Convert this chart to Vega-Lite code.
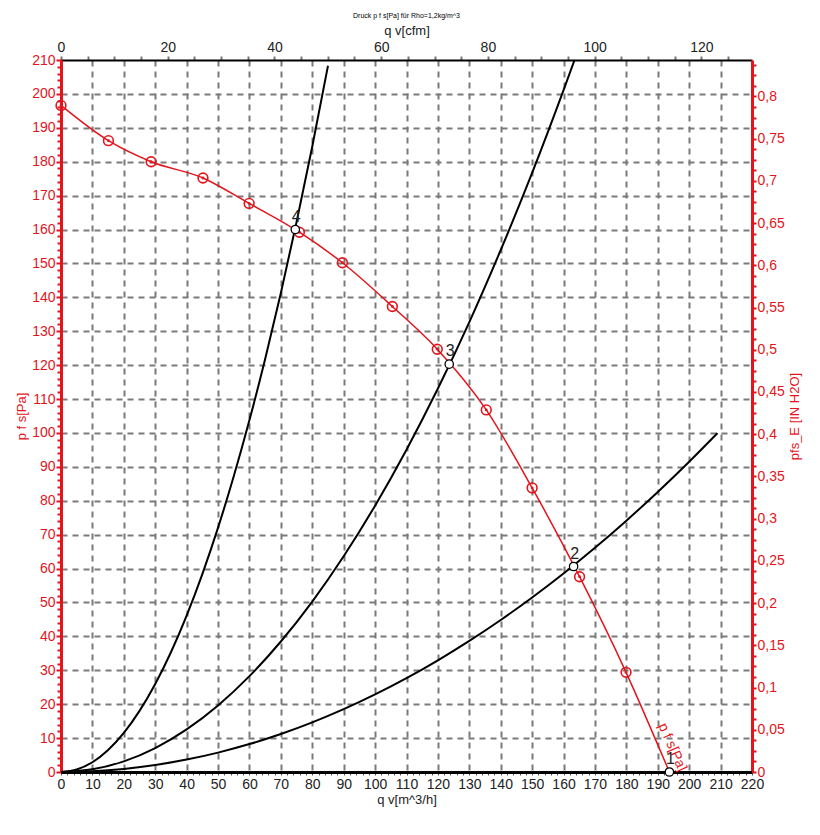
{
  "$schema": "https://vega.github.io/schema/vega-lite/v6.json",
  "width": 691,
  "height": 712,
  "autosize": {"type": "none"},
  "padding": {"left": 61, "top": 60, "right": 68, "bottom": 63},
  "background": "white",
  "config": {"view": {"stroke": null}, "font": "Liberation Sans"},
  "title": {"text": "Druck p f s[Pa] für Rho=1,2kg/m^3", "fontSize": 7, "fontWeight": "normal", "color": "#000000", "anchor": "middle", "offset": 5, "font": "Liberation Sans"},
  "datasets": {
    "fanLine": [
      {"q": 0, "p": 196.6}, {"q": 15.1, "p": 186.2}, {"q": 28.7, "p": 180}, {"q": 45.2, "p": 175.2},
      {"q": 59.9, "p": 167.7}, {"q": 75.9, "p": 159.2}, {"q": 89.6, "p": 150.2}, {"q": 105.5, "p": 137.3},
      {"q": 119.8, "p": 124.7}, {"q": 135.4, "p": 106.8}, {"q": 150, "p": 83.8}, {"q": 165.1, "p": 57.6},
      {"q": 179.9, "p": 29.4}, {"q": 193.7, "p": 0}
    ],
    "fanMarkers": [
      {"q": 0, "p": 196.6}, {"q": 15.1, "p": 186.2}, {"q": 28.7, "p": 180}, {"q": 45.2, "p": 175.2},
      {"q": 59.9, "p": 167.7}, {"q": 75.9, "p": 159.2}, {"q": 89.6, "p": 150.2}, {"q": 105.5, "p": 137.3},
      {"q": 119.8, "p": 124.7}, {"q": 135.4, "p": 106.8}, {"q": 150, "p": 83.8}, {"q": 165.1, "p": 57.6},
      {"q": 179.9, "p": 29.4}
    ],
    "systems": [
      {"c": "4", "q": 0, "p": 0}, {"c": "4", "q": 5, "p": 0.72}, {"c": "4", "q": 10, "p": 2.88}, {"c": "4", "q": 15, "p": 6.49},
      {"c": "4", "q": 20, "p": 11.53}, {"c": "4", "q": 25, "p": 18.02}, {"c": "4", "q": 30, "p": 25.95}, {"c": "4", "q": 35, "p": 35.32},
      {"c": "4", "q": 40, "p": 46.13}, {"c": "4", "q": 45, "p": 58.38}, {"c": "4", "q": 50, "p": 72.08}, {"c": "4", "q": 55, "p": 87.21},
      {"c": "4", "q": 60, "p": 103.79}, {"c": "4", "q": 65, "p": 121.8}, {"c": "4", "q": 70, "p": 141.3}, {"c": "4", "q": 75, "p": 162.2},
      {"c": "4", "q": 80, "p": 184.5}, {"c": "4", "q": 85, "p": 208.3},
      {"c": "3", "q": 0, "p": 0}, {"c": "3", "q": 10, "p": 0.79}, {"c": "3", "q": 20, "p": 3.14}, {"c": "3", "q": 30, "p": 7.07},
      {"c": "3", "q": 40, "p": 12.57}, {"c": "3", "q": 50, "p": 19.64}, {"c": "3", "q": 60, "p": 28.28}, {"c": "3", "q": 70, "p": 38.49},
      {"c": "3", "q": 80, "p": 50.27}, {"c": "3", "q": 90, "p": 63.63}, {"c": "3", "q": 100, "p": 78.55}, {"c": "3", "q": 110, "p": 95.05},
      {"c": "3", "q": 120, "p": 113.1}, {"c": "3", "q": 130, "p": 132.7}, {"c": "3", "q": 140, "p": 153.96}, {"c": "3", "q": 150, "p": 176.7},
      {"c": "3", "q": 160, "p": 201.1}, {"c": "3", "q": 163.5, "p": 210},
      {"c": "2", "q": 0, "p": 0}, {"c": "2", "q": 10, "p": 0.23}, {"c": "2", "q": 20, "p": 0.92}, {"c": "2", "q": 30, "p": 2.06},
      {"c": "2", "q": 40, "p": 3.66}, {"c": "2", "q": 50, "p": 5.72}, {"c": "2", "q": 60, "p": 8.24}, {"c": "2", "q": 70, "p": 11.21},
      {"c": "2", "q": 80, "p": 14.64}, {"c": "2", "q": 90, "p": 18.53}, {"c": "2", "q": 100, "p": 22.88}, {"c": "2", "q": 110, "p": 27.68},
      {"c": "2", "q": 120, "p": 32.95}, {"c": "2", "q": 130, "p": 38.67}, {"c": "2", "q": 140, "p": 44.84}, {"c": "2", "q": 150, "p": 51.48},
      {"c": "2", "q": 160, "p": 58.57}, {"c": "2", "q": 170, "p": 66.12}, {"c": "2", "q": 180, "p": 74.13}, {"c": "2", "q": 190, "p": 82.6},
      {"c": "2", "q": 200, "p": 91.52}, {"c": "2", "q": 209, "p": 99.94},
      {"c": "1", "q": 0, "p": 0}, {"c": "1", "q": 220, "p": 0}
    ],
    "ops": [
      {"q": 193.7, "p": 0, "n": "1"}, {"q": 163.2, "p": 60.6, "n": "2"}, {"q": 123.6, "p": 120.3, "n": "3"}, {"q": 74.6, "p": 160, "n": "4"}
    ],
    "curveLabel": [{"q": 194.6, "p": 7.3, "t": "p f s[Pa]"}],
    "secondary": [{"cfm": 0, "inh": 0}]
  },
  "layer": [
    {
      "encoding": {
        "x": {
          "field": "q", "type": "quantitative",
          "scale": {"domain": [0, 220], "nice": false, "zero": false},
          "axis": {
            "orient": "bottom", "title": "q v[m^3/h]",
            "values": [0,2,4,6,8,10,12,14,16,18,20,22,24,26,28,30,32,34,36,38,40,42,44,46,48,50,52,54,56,58,60,62,64,66,68,70,72,74,76,78,80,82,84,86,88,90,92,94,96,98,100,102,104,106,108,110,112,114,116,118,120,122,124,126,128,130,132,134,136,138,140,142,144,146,148,150,152,154,156,158,160,162,164,166,168,170,172,174,176,178,180,182,184,186,188,190,192,194,196,198,200,202,204,206,208,210,212,214,216,218,220],
            "labelExpr": "datum.value % 10 === 0 ? datum.label : ''",
            "format": "d",
            "grid": true,
            "gridColor": "#7a7a7a", "gridWidth": 2, "gridDash": [6, 5],
            "gridOpacity": {"condition": {"test": "datum.value % 10 === 0 && datum.value > 0 && datum.value < 220", "value": 1}, "value": 0},
            "domainColor": "#000000", "domainWidth": 3,
            "tickColor": "#555555", "tickWidth": 1, "tickSize": 3,
            "labelColor": "#222222", "labelFontSize": 14, "labelPadding": 2, "labelFont": "Liberation Sans",
            "labelOverlap": false, "labelFlush": false,
            "titleColor": "#222222", "titleFontSize": 13, "titleFontWeight": "normal", "titlePadding": 2, "titleFont": "Liberation Sans"
          }
        },
        "y": {
          "field": "p", "type": "quantitative",
          "scale": {"domain": [0, 210], "nice": false, "zero": false},
          "axis": {
            "orient": "left", "title": "p f s[Pa]",
            "values": [0,2,4,6,8,10,12,14,16,18,20,22,24,26,28,30,32,34,36,38,40,42,44,46,48,50,52,54,56,58,60,62,64,66,68,70,72,74,76,78,80,82,84,86,88,90,92,94,96,98,100,102,104,106,108,110,112,114,116,118,120,122,124,126,128,130,132,134,136,138,140,142,144,146,148,150,152,154,156,158,160,162,164,166,168,170,172,174,176,178,180,182,184,186,188,190,192,194,196,198,200,202,204,206,208,210],
            "labelExpr": "datum.value % 10 === 0 ? datum.label : ''",
            "format": "d",
            "grid": true,
            "gridColor": "#7a7a7a", "gridWidth": 2, "gridDash": [6, 5],
            "gridOpacity": {"condition": {"test": "datum.value % 10 === 0 && datum.value > 0 && datum.value < 210", "value": 1}, "value": 0},
            "domainColor": "#e3141c", "domainWidth": 3,
            "tickColor": "#e3141c", "tickWidth": 2,
            "tickSize": {"condition": {"test": "datum.value % 10 === 0", "value": 5}, "value": 4},
            "labelColor": "#e3141c", "labelFontSize": 14, "labelPadding": 1, "labelFont": "Liberation Sans",
            "labelOverlap": false, "labelFlush": false,
            "titleColor": "#e3141c", "titleFontSize": 13, "titleFontWeight": "normal", "titlePadding": 3, "titleFont": "Liberation Sans"
          }
        }
      },
      "layer": [
        {
          "data": {"name": "systems"},
          "mark": {"type": "line", "color": "#000000", "strokeWidth": 2, "interpolate": "monotone"},
          "encoding": {"detail": {"field": "c", "type": "nominal"}, "order": {"field": "q", "type": "quantitative"}}
        },
        {
          "data": {"name": "fanLine"},
          "mark": {"type": "line", "color": "#e3141c", "strokeWidth": 1.5, "interpolate": "monotone"},
          "encoding": {"order": {"field": "q", "type": "quantitative"}}
        },
        {
          "data": {"name": "fanMarkers"},
          "mark": {"type": "point", "shape": "circle", "size": 95, "filled": false, "stroke": "#e3141c", "strokeWidth": 1.6, "opacity": 1}
        },
        {
          "data": {"name": "fanMarkers"},
          "mark": {"type": "point", "shape": "circle", "size": 8, "filled": true, "color": "#e3141c", "opacity": 1}
        },
        {
          "data": {"name": "ops"},
          "mark": {"type": "point", "shape": "circle", "size": 70, "filled": false, "fill": "#ffffff", "fillOpacity": 1, "stroke": "#000000", "strokeWidth": 1.3, "opacity": 1}
        },
        {
          "data": {"name": "ops"},
          "mark": {"type": "text", "fontSize": 16, "color": "#222222", "baseline": "middle", "align": "center", "dy": -13, "dx": 1, "font": "Liberation Sans"},
          "encoding": {"text": {"field": "n", "type": "nominal"}}
        },
        {
          "data": {"name": "curveLabel"},
          "mark": {"type": "text", "fontSize": 14, "color": "#e3141c", "baseline": "middle", "align": "center", "angle": 66, "font": "Liberation Sans"},
          "encoding": {"text": {"field": "t", "type": "nominal"}}
        }
      ]
    },
    {
      "data": {"name": "secondary"},
      "mark": {"type": "point", "opacity": 0},
      "encoding": {
        "x": {
          "field": "cfm", "type": "quantitative",
          "scale": {"domain": [0, 129.49], "nice": false, "zero": false},
          "axis": {
            "orient": "top", "title": "q v[cfm]",
            "values": [0,5,10,15,20,25,30,35,40,45,50,55,60,65,70,75,80,85,90,95,100,105,110,115,120,125],
            "labelExpr": "datum.value % 20 === 0 ? datum.label : ''",
            "format": "d",
            "grid": false,
            "domainColor": "#000000", "domainWidth": 2,
            "tickColor": "#777777", "tickWidth": 2, "tickSize": 4,
            "labelColor": "#222222", "labelFontSize": 14, "labelPadding": 2, "labelFont": "Liberation Sans",
            "labelOverlap": false, "labelFlush": false,
            "titleColor": "#222222", "titleFontSize": 13, "titleFontWeight": "normal", "titlePadding": 3, "titleFont": "Liberation Sans"
          }
        },
        "y": {
          "field": "inh", "type": "quantitative",
          "scale": {"domain": [0, 0.8431], "nice": false, "zero": false},
          "axis": {
            "orient": "right", "title": "pfs_E [IN H2O]",
            "values": [0,0.0125,0.025,0.0375,0.05,0.0625,0.075,0.0875,0.1,0.1125,0.125,0.1375,0.15,0.1625,0.175,0.1875,0.2,0.2125,0.225,0.2375,0.25,0.2625,0.275,0.2875,0.3,0.3125,0.325,0.3375,0.35,0.3625,0.375,0.3875,0.4,0.4125,0.425,0.4375,0.45,0.4625,0.475,0.4875,0.5,0.5125,0.525,0.5375,0.55,0.5625,0.575,0.5875,0.6,0.6125,0.625,0.6375,0.65,0.6625,0.675,0.6875,0.7,0.7125,0.725,0.7375,0.75,0.7625,0.775,0.7875,0.8,0.8125,0.825,0.8375],
            "format": "~g",
            "labelExpr": "abs(datum.value * 20 - round(datum.value * 20)) < 0.000001 ? replace(datum.label, '.', ',') : ''",
            "grid": false,
            "domainColor": "#e3141c", "domainWidth": 3,
            "tickColor": "#e3141c", "tickWidth": 2, "tickSize": 4,
            "labelColor": "#e3141c", "labelFontSize": 14, "labelPadding": 1, "labelFont": "Liberation Sans",
            "labelOverlap": false, "labelFlush": false,
            "titleColor": "#e3141c", "titleFontSize": 13, "titleFontWeight": "normal", "titlePadding": 4, "titleAngle": 270, "titleBaseline": "top", "titleFont": "Liberation Sans"
          }
        }
      }
    }
  ],
  "resolve": {"scale": {"x": "independent", "y": "independent"}}
}
